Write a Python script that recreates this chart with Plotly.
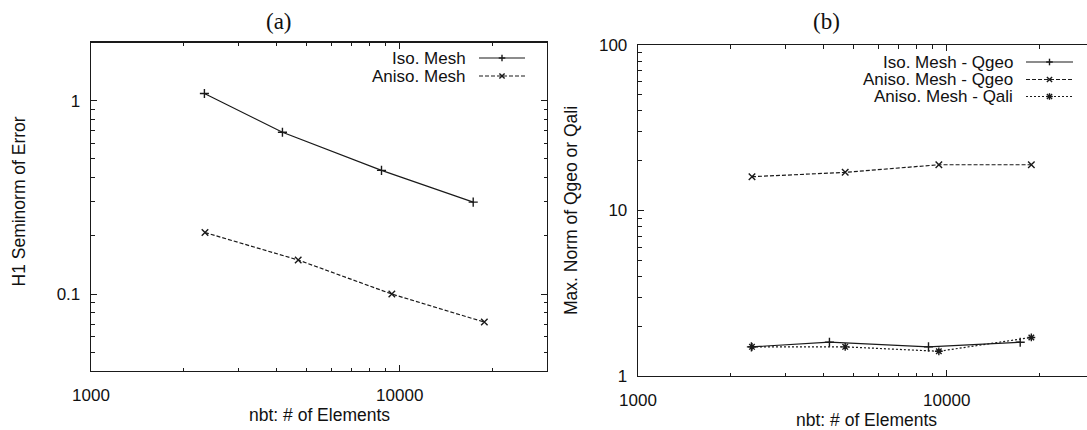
import plotly.graph_objects as go
import math

W, H = 1087, 430

# ---------------- data ----------------
elements_iso = [2330, 4170, 8730, 17300]
elements_aniso = [2340, 4690, 9430, 18800]

h1_iso = [1.09, 0.687, 0.436, 0.299]
h1_aniso = [0.208, 0.150, 0.100, 0.0716]

qgeo_iso = [1.50, 1.60, 1.50, 1.60]
qgeo_aniso = [16.0, 17.0, 18.9, 18.9]
qali_aniso = [1.50, 1.50, 1.41, 1.71]

x_ticks = [1000, 10000]
x_ticktext = ["1000", "10000"]
y_ticks_a = [0.1, 1]
y_ticktext_a = ["0.1", "1"]
y_ticks_b = [1, 10, 100]
y_ticktext_b = ["1", "10", "100"]

x_minor = [2000, 3000, 4000, 5000, 6000, 7000, 8000, 9000, 20000, 30000]
y_minor_a = [0.05, 0.06, 0.07, 0.08, 0.09, 0.2, 0.3, 0.4, 0.5, 0.6, 0.7, 0.8, 0.9, 2]
y_minor_b = [2, 3, 4, 5, 6, 7, 8, 9, 20, 30, 40, 50, 60, 70, 80, 90]

legend_a = ["Iso. Mesh", "Aniso. Mesh"]
legend_b = ["Iso. Mesh - Qgeo", "Aniso. Mesh - Qgeo", "Aniso. Mesh - Qali"]

FONT = "Liberation Sans, Arial, sans-serif"
INK = "#1a1a1a"

def fx(p):
    return p / W

def fy(p):
    return 1 - p / H

# frame positions (pixels)
A_L, A_R, A_T, A_B = 91, 547, 42.5, 371
B_L, B_R, B_T, B_B = 638, 1087, 45, 376
DEC = (A_R - A_L) / (math.log10(30000) - 3)
B_XMAX = 3 + (B_R - B_L) / DEC

fig = go.Figure()

styles = [
    dict(dash="solid", symbol="cross-thin-open"),
    dict(dash="4px,2px", symbol="x-thin-open"),
    dict(dash="2px,2px", symbol="asterisk-open"),
]

def add(x, y, st, xa, ya, name):
    fig.add_trace(go.Scatter(
        x=x, y=y, mode="lines+markers", name=name, showlegend=False,
        line=dict(color=INK, width=1.2, dash=st["dash"]),
        marker=dict(symbol=st["symbol"], size=6.5, color=INK,
                    line=dict(color=INK, width=1.4)),
        xaxis=xa, yaxis=ya, hoverinfo="skip",
    ))

add(elements_iso, h1_iso, styles[0], "x", "y", legend_a[0])
add(elements_aniso, h1_aniso, styles[1], "x", "y", legend_a[1])
add(elements_iso, qgeo_iso, styles[0], "x2", "y2", legend_b[0])
add(elements_aniso, qgeo_aniso, styles[1], "x2", "y2", legend_b[1])
add(elements_aniso, qali_aniso, styles[2], "x2", "y2", legend_b[2])

def axis(domain, rng, tickvals, ticktext, minor, mirror, anchor, side, standoff):
    return dict(
        type="log", domain=domain, range=rng, anchor=anchor,
        automargin=False,
        tickmode="array", tickvals=tickvals, ticktext=ticktext,
        ticks="inside", ticklen=6, tickwidth=1, tickcolor=INK,
        minor=dict(tickmode="array", tickvals=minor, ticks="inside",
                   ticklen=3.5, tickwidth=1, tickcolor=INK),
        showline=True, linecolor=INK, linewidth=1.3, mirror=mirror,
        showgrid=False, zeroline=False,
        tickfont=dict(family=FONT, size=17, color="#111"),
        ticklabelstandoff=standoff, side=side,
    )

fig.update_layout(
    template="none",
    width=W, height=H,
    margin=dict(l=0, r=0, t=0, b=0, pad=0),
    paper_bgcolor="white", plot_bgcolor="white",
    showlegend=False,
    xaxis=axis([fx(A_L), fx(A_R)], [3, math.log10(30000)], x_ticks, x_ticktext,
               x_minor, "allticks", "y", "bottom", 8),
    yaxis=axis([fy(A_B), fy(A_T)], [math.log10(0.04), math.log10(2)], y_ticks_a,
               y_ticktext_a, y_minor_a, "allticks", "x", "left", 6),
    xaxis2=axis([fx(B_L), fx(B_R)], [3, B_XMAX], x_ticks, x_ticktext,
                x_minor, "allticks", "y2", "bottom", 8),
    yaxis2=axis([fy(B_B), fy(B_T)], [0, 2], y_ticks_b, y_ticktext_b,
                y_minor_b, False, "x2", "left", 6),
)

ann = []
shapes = []

# panel titles
ann.append(dict(text="(a)", x=fx(279), y=fy(21), xref="paper", yref="paper",
                showarrow=False, xanchor="center", yanchor="middle",
                font=dict(family="Liberation Serif, serif", size=23, color="#111")))
ann.append(dict(text="(b)", x=fx(826), y=fy(21), xref="paper", yref="paper",
                showarrow=False, xanchor="center", yanchor="middle",
                font=dict(family="Liberation Serif, serif", size=23, color="#111")))

# axis titles
def title(text, x, y, angle=0):
    ann.append(dict(text=text, x=fx(x), y=fy(y), xref="paper", yref="paper",
                    showarrow=False, xanchor="center", yanchor="middle",
                    textangle=angle,
                    font=dict(family=FONT, size=17.5, color="#111")))

title("nbt: # of Elements", (A_L + A_R) / 2, 415)
title("nbt: # of Elements", 866, 420)
title("H1 Seminorm of Error", 18.5, 202, -90)
title("Max. Norm of Qgeo or Qali", 571, 211, -90)

# manual legends (text on the left, sample on the right, as in gnuplot)
def marker_shapes(cx, cy, symbol):
    segs = []
    r = 3.3
    d = 2.6
    if symbol in ("cross-thin-open", "asterisk-open"):
        segs += [((cx - r, cy), (cx + r, cy)), ((cx, cy - r), (cx, cy + r))]
    if symbol in ("x-thin-open", "asterisk-open"):
        segs += [((cx - d, cy - d), (cx + d, cy + d)), ((cx - d, cy + d), (cx + d, cy - d))]
    for (x0, y0), (x1, y1) in segs:
        shapes.append(dict(type="line", xref="paper", yref="paper",
                           x0=fx(x0), y0=fy(y0), x1=fx(x1), y1=fy(y1),
                           line=dict(color=INK, width=1.4)))

def legend(entries, text_right, x0, x1, rows):
    for i, (name, row) in enumerate(zip(entries, rows)):
        st = styles[i]
        ann.append(dict(text=name, x=fx(text_right), y=fy(row), xref="paper",
                        yref="paper", showarrow=False, xanchor="right",
                        yanchor="middle", borderpad=0,
                        font=dict(family=FONT, size=17, color="#111")))
        shapes.append(dict(type="line", xref="paper", yref="paper",
                           x0=fx(x0), y0=fy(row), x1=fx(x1), y1=fy(row),
                           line=dict(color=INK, width=1.2, dash=st["dash"])))
        marker_shapes((x0 + x1) / 2, row, st["symbol"])

legend(legend_a, 467, 479, 525, [58, 76])
legend(legend_b, 1014, 1026, 1073, [62, 79.5, 96.5])

fig.update_layout(annotations=ann, shapes=shapes)

fig.write_html(
    "out.html",
    config={"displayModeBar": False, "staticPlot": True},
    post_script="document.body.style.margin='0px';document.body.style.overflow='hidden';",
)
